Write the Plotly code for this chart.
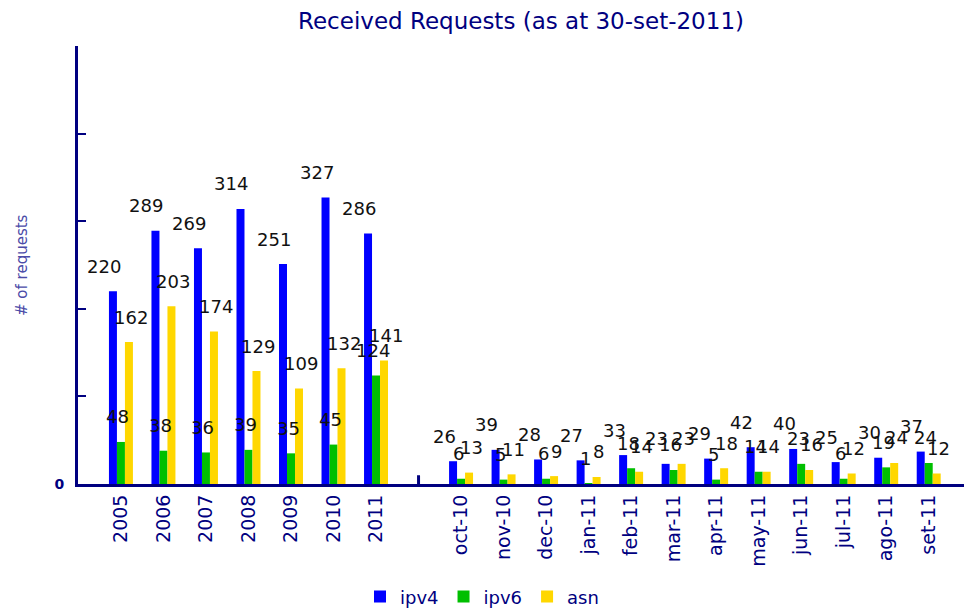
import plotly.graph_objects as go

# Categories: yearly totals, an empty slot as separator, then monthly counts
years = ["2005", "2006", "2007", "2008", "2009", "2010", "2011"]
months = ["oct-10", "nov-10", "dec-10", "jan-11", "feb-11", "mar-11",
          "apr-11", "may-11", "jun-11", "jul-11", "ago-11", "set-11"]

ipv4_year = [220, 289, 269, 314, 251, 327, 286]
ipv6_year = [48, 38, 36, 39, 35, 45, 124]
asn_year = [162, 203, 174, 129, 109, 132, 141]

ipv4_month = [26, 39, 28, 27, 33, 23, 29, 42, 40, 25, 30, 37]
ipv6_month = [6, 5, 6, 1, 18, 16, 5, 14, 23, 6, 19, 24]
asn_month = [13, 11, 9, 8, 14, 23, 18, 14, 16, 12, 24, 12]

y_ticks = [0, 100, 200, 300, 400, 500]

NAVY = "#000080"
FONT = "DejaVu Sans"

# numeric slot positions: years 0..6, gap at 7, months 8..19
labels = years + months
gap_slot = len(years)
positions = list(range(len(years))) + [gap_slot + 1 + i for i in range(len(months))]

series = [
    ("ipv4", ipv4_year + ipv4_month, "#0000ff", -17),
    ("ipv6", ipv6_year + ipv6_month, "#00bf00", -3),
    ("asn", asn_year + asn_month, "#ffd700", 10),
]

fig = go.Figure()
annotations = []
for name, vals, color, dx in series:
    fig.add_trace(go.Bar(
        x=positions, y=vals, name=name,
        marker=dict(color=color, line=dict(width=0)),
    ))
    for xp, v in zip(positions, vals):
        annotations.append(dict(
            x=xp, y=v, xref="x", yref="y", text=str(v), showarrow=False,
            xshift=dx, yshift=25, yanchor="middle",
            font=dict(family=FONT, size=18, color="#111111"),
        ))

# y-axis title
annotations.append(dict(
    x=0, y=0.5, xref="paper", yref="paper", xshift=-67, text="# of requests",
    textangle=-90, showarrow=False, font=dict(family=FONT, size=15, color="#4b4ba8"),
))

# short separator tick between the yearly and monthly groups
fig.add_shape(type="line", xref="x", yref="y", x0=gap_slot, x1=gap_slot,
              y0=0, y1=10, line=dict(color=NAVY, width=3))

fig.update_layout(
    width=964, height=609,
    margin=dict(l=78, r=0, t=46, b=125),
    paper_bgcolor="white", plot_bgcolor="white",
    barmode="group", bargap=0.436, bargroupgap=0,
    title=dict(text="Received Requests (as at 30-set-2011)", x=0.5, xref="paper",
               xanchor="center", y=0.965, yref="container", yanchor="middle",
               font=dict(family=FONT, size=23, color=NAVY)),
    xaxis=dict(
        range=[-1.01, 19.83], tickmode="array", tickvals=positions, ticktext=labels,
        tickangle=-90, ticks="", showgrid=False, zeroline=False,
        showline=True, linecolor=NAVY, linewidth=3,
        tickfont=dict(family=FONT, size=19, color=NAVY),
    ),
    yaxis=dict(
        range=[0, 500], tickmode="array", tickvals=y_ticks,
        ticktext=["<b>0</b>"] + [""] * (len(y_ticks) - 1),
        ticks="inside", ticklen=8, tickwidth=2, tickcolor=NAVY,
        ticklabelstandoff=8,
        showgrid=False, zeroline=False, showline=True, linecolor=NAVY, linewidth=3,
        tickfont=dict(family=FONT, size=14, color=NAVY),
    ),
    legend=dict(orientation="h", xref="container", yref="container",
                x=0.5, xanchor="center", y=0.02, yanchor="middle",
                font=dict(family=FONT, size=18, color=NAVY)),
    annotations=annotations,
)

fig.write_html("out.html")
